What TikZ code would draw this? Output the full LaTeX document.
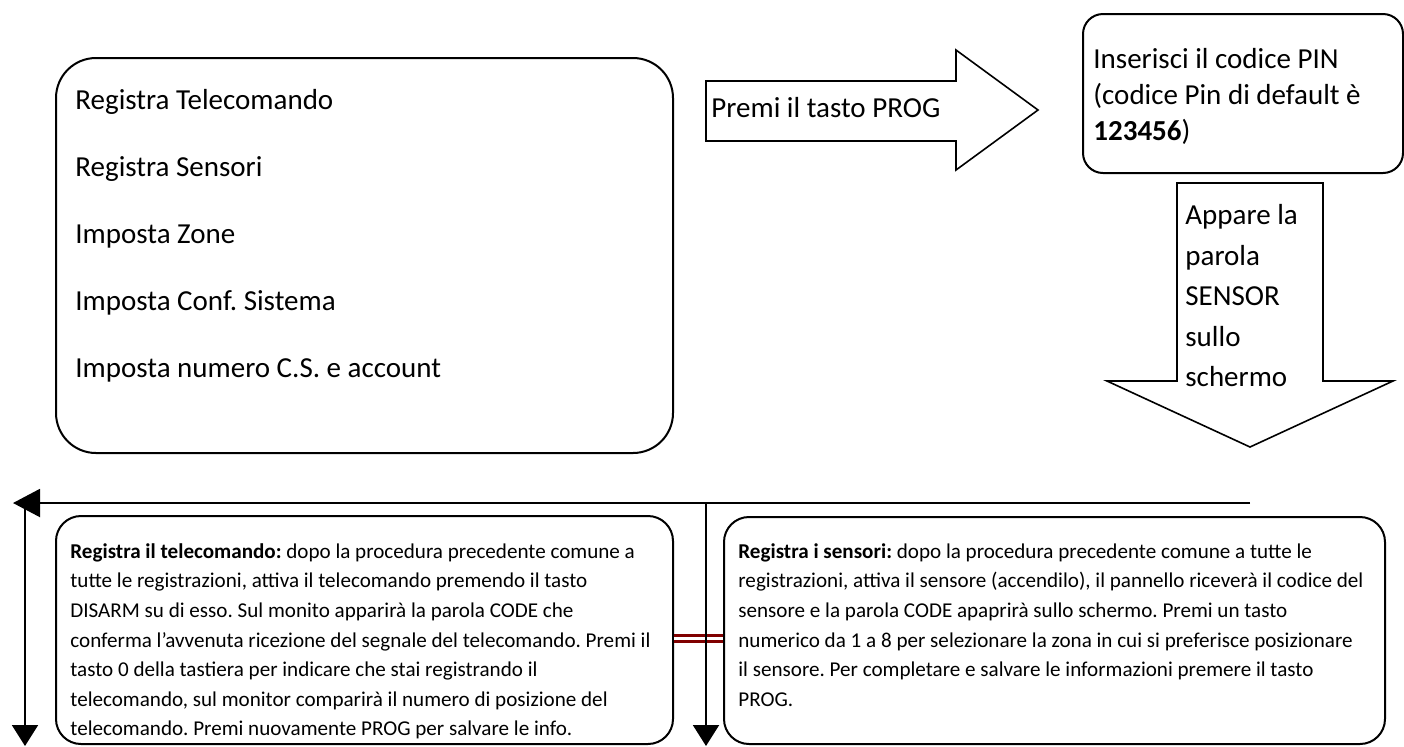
\documentclass[tikz,border=0pt]{standalone}
\usepackage{fontspec}
\setmainfont{Carlito}
\frenchspacing
\usetikzlibrary{arrows.meta}
\definecolor{linkred}{RGB}{128,0,0}

\begin{document}
\begin{tikzpicture}[x=0.5pt,y=-0.5pt,
    panel/.style={draw,line width=1pt,rounded corners=#1,inner sep=0pt,anchor=north west},
    panel/.default=12.5pt,
    bigtext/.style={font=\fontsize{14.5}{18}\selectfont,inner sep=0pt,align=left},
    itemtext/.style={font=\fontsize{14.5}{18}\selectfont,inner sep=0pt,anchor=west,text height=10pt,text depth=3pt},
    smalltext/.style={font=\fontsize{10.55}{14.8}\selectfont,inner sep=0pt,align=left,anchor=north west},
    flow/.style={draw,line width=0.8pt,line join=miter},
    wire/.style={line width=1pt,-{Triangle[length=10.5pt,width=13pt]}}]
\useasboundingbox (0,0) rectangle (1404,746);

% menu of the panel
\node[panel=20pt,minimum width=308.5pt,minimum height=197.5pt] (menu) at (55,57) {};
\foreach \t [count=\i] in {Registra Telecomando,Registra Sensori,Imposta Zone,Imposta Conf. Sistema,Imposta numero C.S. e account}
    \node[itemtext] (item\i) at (75,{102+67*(\i-1)}) {\t};

% block arrows
\draw[flow] (706,81) -- (956,81) -- (956,50) -- (1038,110) -- (956,170) -- (956,141) -- (706,141) -- cycle;
\node[itemtext] (prog) at (711,110) {Premi il tasto PROG};

\node[panel=10pt,minimum width=160pt,minimum height=79.5pt] (pin) at (1082,13) {};
\node[bigtext,anchor=north west] (pintext) at (1093,48) {Inserisci il codice PIN\\(codice Pin di default è\\\textbf{123456})};

\draw[flow] (1177,183) -- (1323,183) -- (1323,381) -- (1393,381) -- (1250,447) -- (1107,381) -- (1177,381) -- cycle;
\node[bigtext,anchor=north west,font=\fontsize{14.5}{20.3}\selectfont] (sensor) at (1185,204) {Appare la\\parola\\SENSOR\\sullo\\schermo};

% the two procedures
\node[panel,minimum width=308.5pt,minimum height=114pt] (tele) at (55,515) {};
\node[panel,minimum width=330.5pt,minimum height=113.5pt] (sens) at (723,516) {};
\node[smalltext] (teletext) at (70,543) {\textbf{Registra il telecomando:} dopo la procedura precedente comune a\\
tutte le registrazioni, attiva il telecomando premendo il tasto\\
DISARM su di esso. Sul monito apparirà la parola CODE che\\
conferma l’avvenuta ricezione del segnale del telecomando. Premi il\\
tasto 0 della tastiera per indicare che stai registrando il\\
telecomando, sul monitor comparirà il numero di posizione del\\
telecomando. Premi nuovamente PROG per salvare le info.};
\node[smalltext] (senstext) at (738,543) {\textbf{Registra i sensori:} dopo la procedura precedente comune a tutte le\\
registrazioni, attiva il sensore (accendilo), il pannello riceverà il codice del\\
sensore e la parola CODE apaprirà sullo schermo. Premi un tasto\\
numerico da 1 a 8 per selezionare la zona in cui si preferisce posizionare\\
il sensore. Per completare e salvare le informazioni premere il tasto\\
PROG.};

% connectors
\coordinate (hstart) at (1250,503);
\coordinate (hend) at (13,503);
\coordinate (lfork) at (25,503);
\coordinate (lend) at (25,746);
\coordinate (mfork) at (706,503);
\coordinate (mend) at (706,746);
\draw[draw=linkred,double=white,double distance=1.6pt,line width=1.5pt] (tele.east |- 0,638.5) -- (sens.west |- 0,638.5);
\draw[line width=1pt,-{Triangle[length=13.5pt,width=14pt]}] (hstart) -- (hend);
\draw[wire] (lfork) -- (lend);
\draw[wire] (mfork) -- (mend);
\end{tikzpicture}
\end{document}
